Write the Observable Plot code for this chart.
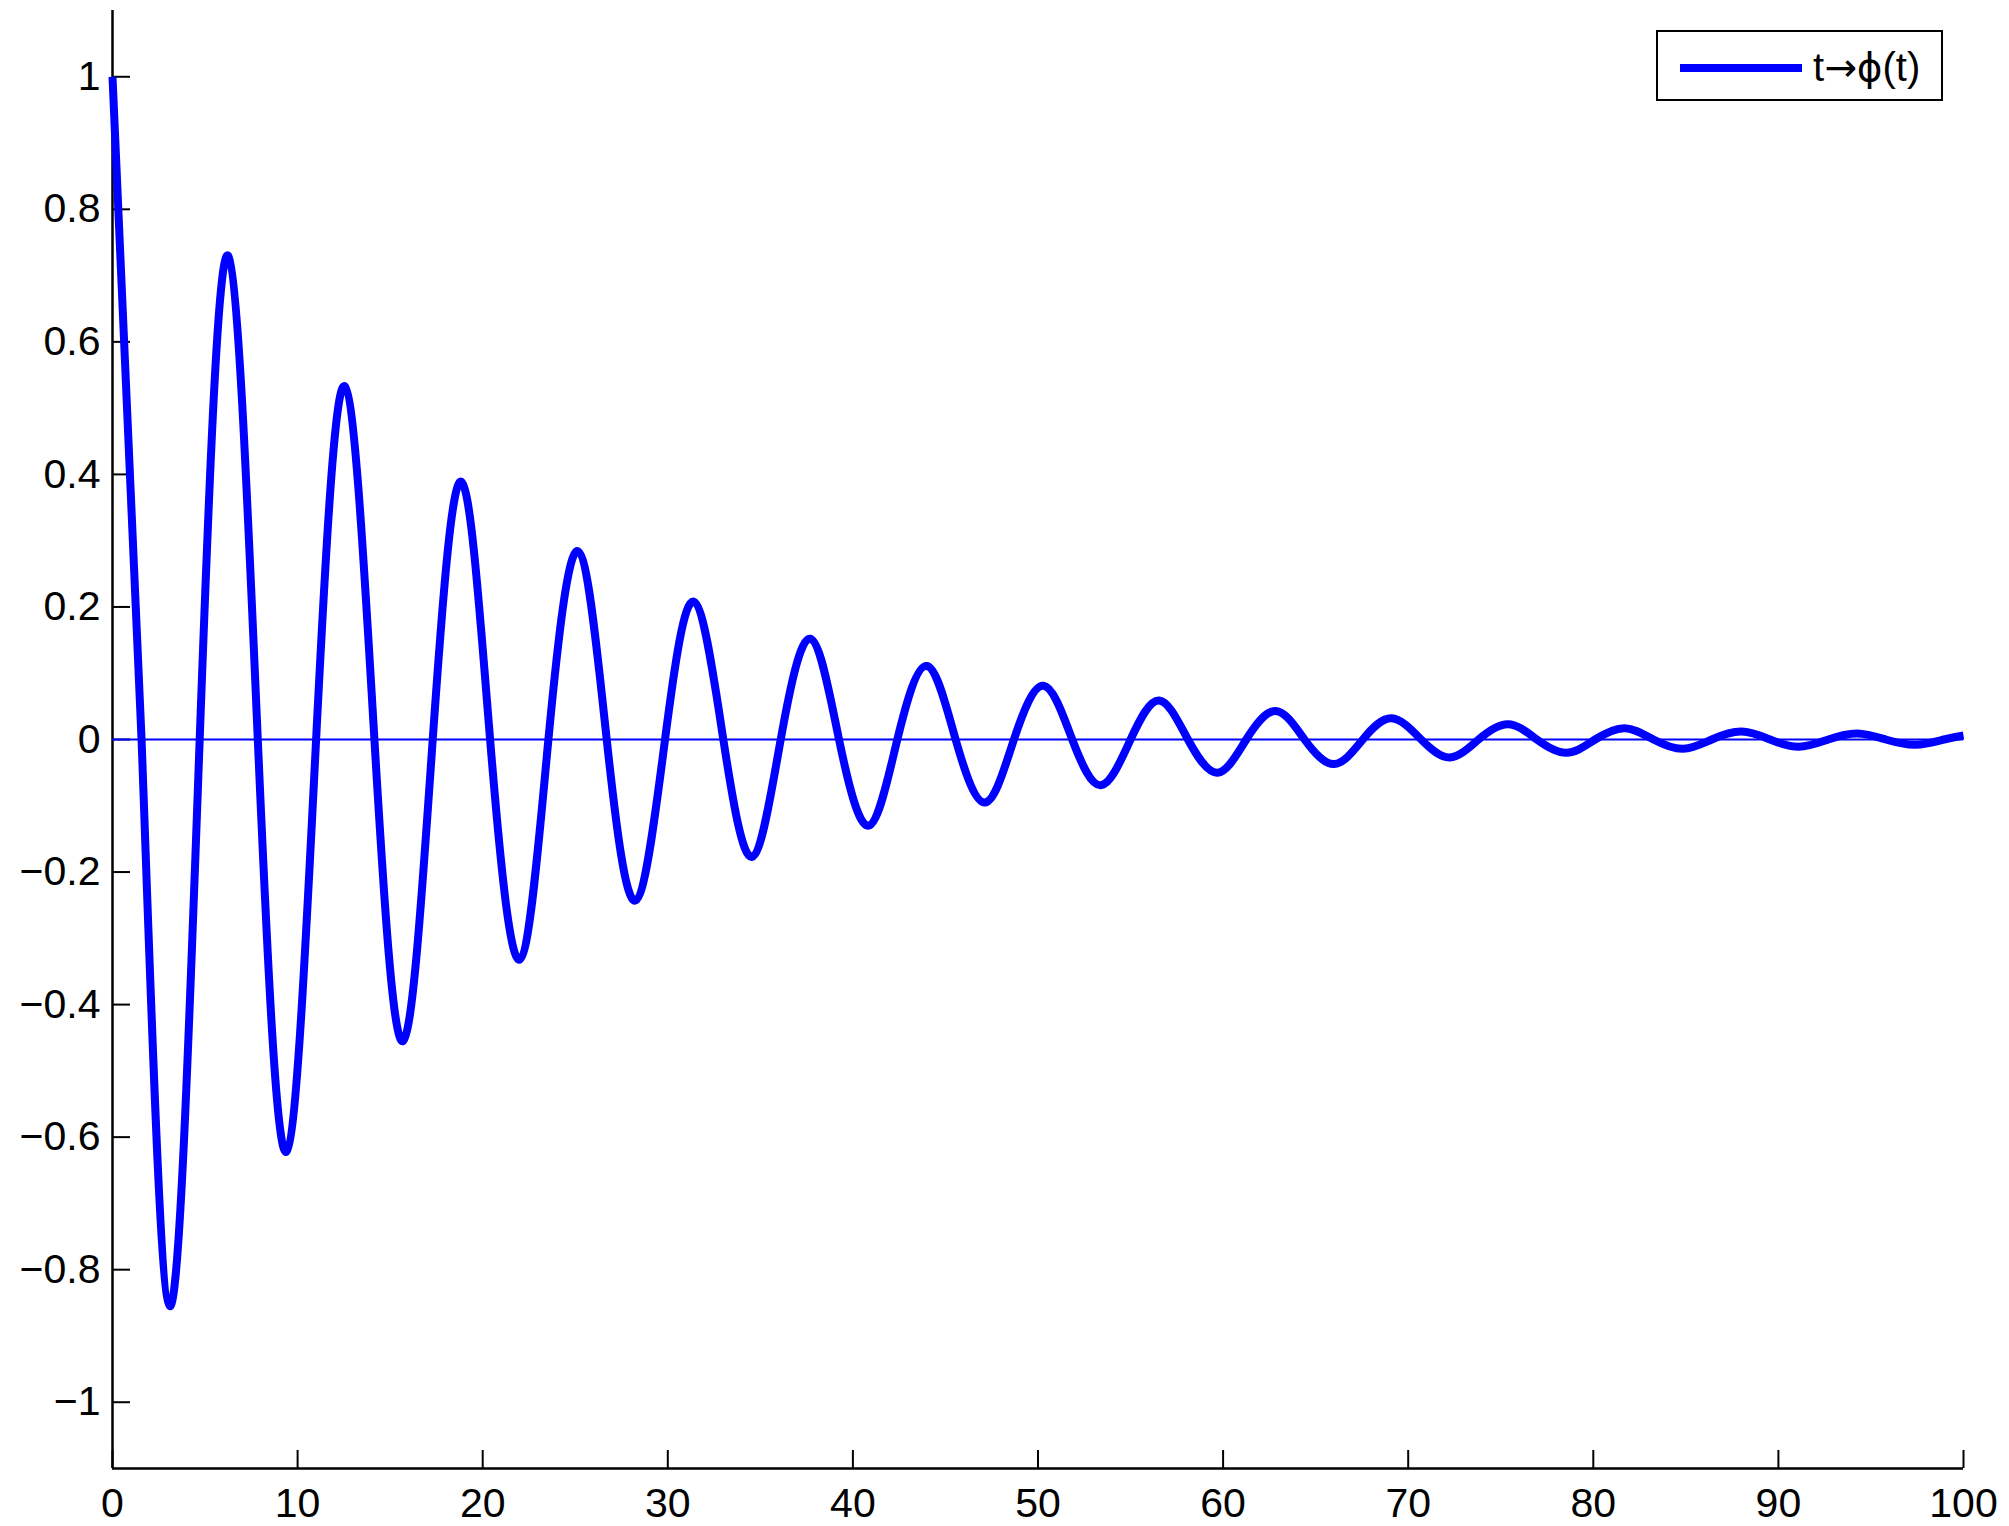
<!DOCTYPE html>
<html>
<head>
<meta charset="utf-8">
<script src="https://cdn.jsdelivr.net/npm/d3@7"></script>
<script src="https://cdn.jsdelivr.net/npm/@observablehq/plot@0.6"></script>
<style>
  html, body { margin: 0; padding: 0; background: #fff; }
  #wrap { position: relative; width: 2009px; height: 1526px; font-family: "Liberation Sans", Arial, Helvetica, sans-serif; }
  #legend {
    position: absolute; left: 1656px; top: 30px; width: 283px; height: 67px;
    border: 2px solid #000; background: #fff; box-sizing: content-box;
  }
  #legend .swatch { position: absolute; left: 22px; top: 32px; width: 122px; height: 8px; background: #0000ff; }
  #legend .label { position: absolute; left: 155px; top: 12px; font-size: 40px; line-height: 46px; color: #000; white-space: nowrap; }
  #legend .sym { font-family: "DejaVu Sans", sans-serif; font-size: 39px; }
</style>
</head>
<body>
<div id="wrap">
  <div id="chart"></div>
  <div id="legend"><div class="swatch"></div><div class="label">t<span class="sym">→ϕ</span>(t)</div></div>
</div>
<script>
// Damped oscillation t → φ(t): turning points and zero crossings along t
const tValues = [
  0, 1.57, 3.1, 4.71, 6.25, 7.85, 9.4, 11.0, 12.55, 14.15,
  15.7, 17.3, 18.85, 20.4, 22.0, 23.55, 25.15, 26.7, 28.25, 29.85,
  31.4, 33.0, 34.55, 36.1, 37.7, 39.25, 40.85, 42.4, 44.0, 45.55,
  47.15, 48.7, 50.3, 51.85, 53.4, 55.0, 56.55, 58.1, 59.7, 61.25,
  62.85, 64.4, 66.0, 67.55, 69.1, 70.7, 72.25, 73.8, 75.4, 76.95,
  78.55, 80.1, 81.7, 83.25, 84.85, 86.4, 88.0, 89.55, 91.1, 92.7,
  94.25, 95.8, 97.4, 98.95, 100
];
const phiValues = [
  1.000, 0, -0.855, 0, 0.730, 0, -0.622, 0, 0.533, 0,
  -0.455, 0, 0.389, 0, -0.332, 0, 0.284, 0, -0.243, 0,
  0.208, 0, -0.177, 0, 0.152, 0, -0.130, 0, 0.111, 0,
  -0.095, 0, 0.081, 0, -0.069, 0, 0.059, 0, -0.050, 0,
  0.043, 0, -0.037, 0, 0.032, 0, -0.027, 0, 0.023, 0,
  -0.020, 0, 0.017, 0, -0.014, 0, 0.012, 0, -0.011, 0,
  0.009, 0, -0.008, 0, 0.006
];
const xTicks = [0, 10, 20, 30, 40, 50, 60, 70, 80, 90, 100];
const yTicks = [-1, -0.8, -0.6, -0.4, -0.2, 0, 0.2, 0.4, 0.6, 0.8, 1];

const series = tValues.map((t, i) => ({t, phi: phiValues[i]}));

const W = 2009, H = 1526;
const mL = 112, mR = 46, mT = 10, mB = 58;
const tickLen = 18;
const fmt = d => (d < 0 ? "\u2212" : "") + Math.abs(d);

const chart = Plot.plot({
  width: W,
  height: H,
  marginLeft: mL,
  marginRight: mR,
  marginTop: mT,
  marginBottom: mB,
  style: {fontFamily: "'Liberation Sans', Arial, Helvetica, sans-serif", fontSize: "41px", color: "#000", background: "#fff"},
  x: {domain: [0, 100]},
  y: {domain: [-1.1, 1.1]},
  marks: [
    Plot.axisX(xTicks, {tickSize: 0, tickPadding: 19, tickFormat: fmt, fontSize: 41, label: null}),
    Plot.axisY(yTicks, {tickSize: 0, tickPadding: 12, tickFormat: fmt, fontSize: 41, label: null}),
    // inward tick marks
    Plot.tickY(yTicks, {y: d => d, stroke: "#000", strokeWidth: 2, insetRight: W - mL - mR - tickLen}),
    Plot.tickX(xTicks, {x: d => d, stroke: "#000", strokeWidth: 2, insetTop: H - mT - mB - tickLen}),
    // axis lines (left and bottom)
    Plot.ruleX([0], {stroke: "#000", strokeWidth: 2.5}),
    Plot.ruleY([-1.1], {stroke: "#000", strokeWidth: 2.5}),
    // zero reference line
    Plot.ruleY([0], {stroke: "#0000ff", strokeWidth: 2}),
    // φ(t)
    Plot.line(series, {x: "t", y: "phi", stroke: "#0000ff", strokeWidth: 8, curve: "natural", strokeLinejoin: "round", strokeLinecap: "butt"})
  ]
});
document.getElementById("chart").appendChild(chart);
</script>
</body>
</html>
